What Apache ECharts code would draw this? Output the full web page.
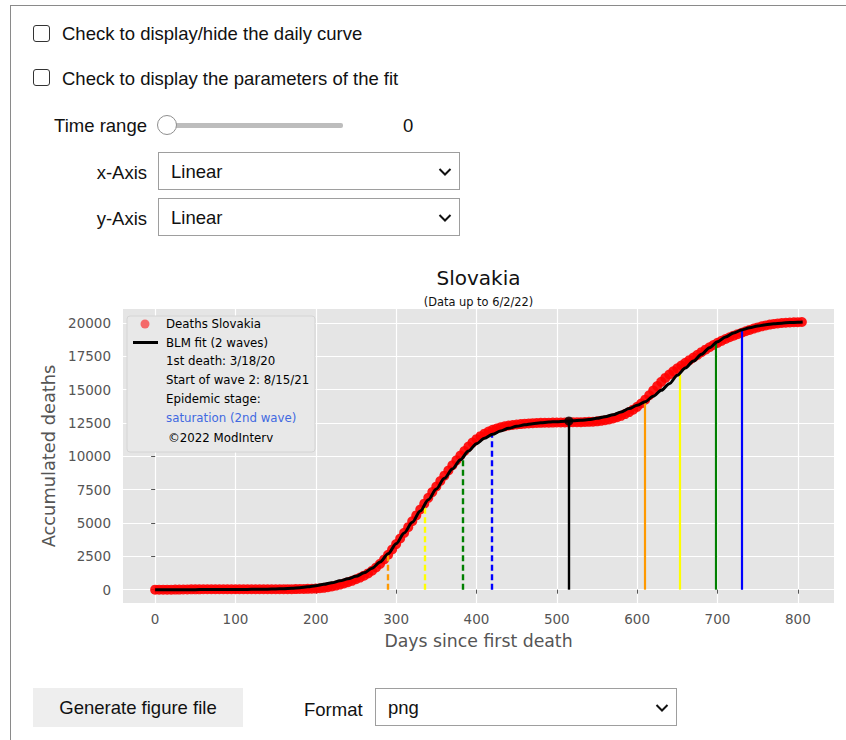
<!DOCTYPE html>
<html>
<head>
<meta charset="utf-8">
<title>Slovakia</title>
<script src="https://cdn.jsdelivr.net/npm/echarts@6/dist/echarts.min.js"></script>
<style>
  html, body { margin: 0; padding: 0; background: #fff; width: 846px; height: 740px; overflow: hidden;
    font-family: "Liberation Sans", Arial, Helvetica, sans-serif; color: #111; }
  .frame { position: absolute; left: 10px; top: 5px; width: 900px; height: 900px;
    border-left: 1px solid #8a8a8a; border-top: 1px solid #8a8a8a; }
  .txt { position: absolute; font-size: 18.5px; line-height: 20px; white-space: nowrap; }
  .right { text-align: right; }
  .chk { position: absolute; width: 17px; height: 17px; margin: 0; -webkit-appearance: none; appearance: none;
    border: 1.6px solid #333; border-radius: 3px; box-sizing: border-box; background: #fff; }
  .track { position: absolute; left: 170px; top: 123px; width: 173px; height: 5px; background: #bdbdbd; border-radius: 2px; }
  .handle { position: absolute; left: 157px; top: 115px; width: 20px; height: 20px; box-sizing: border-box;
    border: 1px solid #8f8f8f; border-radius: 50%; background: #fff; }
  .sel { position: absolute; width: 302px; height: 38px; box-sizing: border-box; border: 1px solid #9e9e9e; background: #fff; }
  .sel .val { position: absolute; left: 12px; top: 9px; font-size: 18.5px; line-height: 20px; }
  .sel svg { position: absolute; right: 7px; top: 14px; }
  .btn { position: absolute; left: 33px; top: 688px; width: 210px; height: 39px; background: #eeeeee;
    font-size: 18.5px; line-height: 39px; text-align: center; }
  #chart { position: absolute; left: 0; top: 250px; width: 846px; height: 430px; }
</style>
</head>
<body>
<div class="frame"></div>

<input type="checkbox" class="chk" style="left:33px;top:25px">
<div class="txt" style="left:62px;top:24px">Check to display/hide the daily curve</div>
<input type="checkbox" class="chk" style="left:33px;top:69px">
<div class="txt" style="left:62px;top:69px">Check to display the parameters of the fit</div>

<div class="txt right" style="left:0;width:147px;top:116px">Time range</div>
<div class="track"></div>
<div class="handle"></div>
<div class="txt" style="left:403px;top:116px">0</div>

<div class="txt right" style="left:0;width:147px;top:163px">x-Axis</div>
<div class="sel" style="left:158px;top:152px"><span class="val">Linear</span>
  <svg width="14" height="10" viewBox="0 0 14 10"><polyline points="1.5,2 7,7.5 12.5,2" fill="none" stroke="#111" stroke-width="2"/></svg></div>
<div class="txt right" style="left:0;width:147px;top:209px">y-Axis</div>
<div class="sel" style="left:158px;top:198px"><span class="val">Linear</span>
  <svg width="14" height="10" viewBox="0 0 14 10"><polyline points="1.5,2 7,7.5 12.5,2" fill="none" stroke="#111" stroke-width="2"/></svg></div>

<div id="chart"></div>

<div class="btn">Generate figure file</div>
<div class="txt" style="left:304px;top:700px">Format</div>
<div class="sel" style="left:375px;top:688px"><span class="val">png</span>
  <svg width="14" height="10" viewBox="0 0 14 10"><polyline points="1.5,2 7,7.5 12.5,2" fill="none" stroke="#111" stroke-width="2"/></svg></div>

<script>
// Accumulated COVID-19 deaths in Slovakia, days counted from the first death (3/18/20)
const deathDays = [
  0, 5, 10, 15, 20, 25, 30, 35, 40, 45, 50, 55, 60, 65, 70, 75, 80, 85, 90, 95,
  100, 105, 110, 115, 120, 125, 130, 135, 140, 145, 150, 155, 160, 165, 170, 175, 180, 185, 190, 195,
  200, 205, 210, 215, 220, 225, 230, 235, 240, 245, 250, 255, 260, 265, 270, 275, 280, 285, 290, 295,
  300, 305, 310, 315, 320, 325, 330, 335, 340, 345, 350, 355, 360, 365, 370, 375, 380, 385, 390, 395,
  400, 405, 410, 415, 420, 425, 430, 435, 440, 445, 450, 455, 460, 465, 470, 475, 480, 485, 490, 495,
  500, 505, 510, 515, 520, 525, 530, 535, 540, 545, 550, 555, 560, 565, 570, 575, 580, 585, 590, 595,
  600, 605, 610, 615, 620, 625, 630, 635, 640, 645, 650, 655, 660, 665, 670, 675, 680, 685, 690, 695,
  700, 705, 710, 715, 720, 725, 730, 735, 740, 745, 750, 755, 760, 765, 770, 775, 780, 785, 790, 795,
  800, 805
];
const deathsCum = [
  1, 1, 1, 2, 2, 4, 9, 15, 20, 23, 25, 26, 28, 28, 28, 28, 28, 28, 28, 28,
  28, 28, 28, 28, 28, 28, 28, 28, 30, 30, 31, 33, 35, 37, 40, 43, 48, 55, 62, 70,
  80, 105, 140, 185, 240, 305, 380, 465, 560, 665, 780, 905, 1050, 1220, 1420, 1660, 1940, 2260, 2620, 3010,
  3420, 3840, 4260, 4690, 5130, 5570, 6010, 6450, 6890, 7320, 7740, 8150, 8550, 8940, 9330, 9700, 10060, 10400, 10730, 11030,
  11290, 11510, 11700, 11860, 11990, 12090, 12180, 12250, 12310, 12350, 12390, 12420, 12450, 12470, 12490, 12500, 12510, 12520, 12525, 12530,
  12535, 12540, 12545, 12550, 12555, 12560, 12565, 12575, 12585, 12600, 12625, 12660, 12705, 12765, 12840, 12930, 13040, 13170, 13320, 13500,
  13710, 13960, 14250, 14580, 14930, 15270, 15590, 15880, 16140, 16380, 16600, 16810, 17010, 17210, 17410, 17610, 17810, 18000, 18180, 18350,
  18510, 18660, 18800, 18930, 19050, 19160, 19270, 19380, 19480, 19580, 19670, 19750, 19820, 19880, 19930, 19970, 20000, 20020, 20040, 20055,
  20065, 20075
];

// BLM fit with two waves
const fitDays = [
  0, 10, 20, 30, 40, 50, 60, 70, 80, 90, 100, 110, 120, 130, 140, 150, 160, 170, 180, 190,
  200, 210, 220, 230, 240, 250, 260, 270, 280, 290, 300, 310, 320, 330, 340, 350, 360, 370, 380, 390,
  400, 410, 420, 430, 440, 450, 460, 470, 480, 490, 500, 510, 520, 530, 540, 550, 560, 570, 580, 590,
  600, 610, 620, 630, 640, 650, 660, 670, 680, 690, 700, 710, 720, 730, 740, 750, 760, 770, 780, 790,
  800, 806
];
const fitDeaths = [
  0, 0, 1, 1, 2, 3, 4, 5, 7, 9, 12, 16, 22, 30, 40, 55, 75, 100, 140, 210,
  300, 400, 520, 660, 820, 1000, 1260, 1600, 2080, 2700, 3450, 4250, 5050, 5900, 6750, 7550, 8350, 9050, 9750, 10400,
  10950, 11350, 11650, 11900, 12100, 12250, 12360, 12450, 12520, 12570, 12600, 12630, 12660, 12700, 12760, 12850, 12970, 13120, 13330, 13580,
  13830, 14100, 14500, 14950, 15450, 16080, 16620, 17150, 17650, 18150, 18600, 18950, 19250, 19480, 19640, 19770, 19870, 19940, 19990, 20030,
  20060, 20075
];

// Stage markers of each wave (day, level reached by the fit)
const wave1MarkDays = [289, 335, 383, 419];
const wave1MarkLevels = [2700, 6370, 9990, 11610];
const wave2MarkDays = [609, 653, 698, 730];
const wave2MarkLevels = [14030, 16280, 18530, 19480];
const wave2StartDay = 515;
const wave2StartLevel = 12650;

// Axis ticks
const xTickValues = [0, 100, 200, 300, 400, 500, 600, 700, 800];
const yTickValues = [0, 2500, 5000, 7500, 10000, 12500, 15000, 17500, 20000];

// Legend notes
const legendNotes = ['1st death: 3/18/20', 'Start of wave 2: 8/15/21', 'Epidemic stage:', 'saturation (2nd wave)'];
const copyrightNote = '\u00A92022 ModInterv';

const markColors = ['#ff9900', '#ffff00', '#008000', '#0000ff'];
const FONT = '"DejaVu Sans", Verdana, sans-serif';

const deathPoints = deathDays.map((d, i) => [d, deathsCum[i]]);
const fitPoints = fitDays.map((d, i) => [d, fitDeaths[i]]);

const markLines = [];
wave1MarkDays.forEach((d, i) => {
  markLines.push([
    { coord: [d, 0], lineStyle: { color: markColors[i], width: 2.4, type: [6, 3.5] } },
    { coord: [d, wave1MarkLevels[i]] }
  ]);
});
wave2MarkDays.forEach((d, i) => {
  markLines.push([
    { coord: [d, 0], lineStyle: { color: markColors[i], width: 2.2, type: 'solid' } },
    { coord: [d, wave2MarkLevels[i]] }
  ]);
});
markLines.push([
  { coord: [wave2StartDay, 0], lineStyle: { color: '#000', width: 2.4, type: 'solid' } },
  { coord: [wave2StartDay, wave2StartLevel] }
]);

const noteRowY = [111, 130, 149, 168];
const graphics = [
  { type: 'rect', z: 15, silent: true,
    shape: { x: 127, y: 66, width: 188, height: 136, r: 3 },
    style: { fill: '#e8e8e8', stroke: '#d4d4d4', lineWidth: 1 } }
];
legendNotes.forEach((t, i) => {
  graphics.push({ type: 'text', z: 25, silent: true, x: 166, y: noteRowY[i],
    style: { text: t, font: '11.8px ' + FONT, fill: i === 3 ? '#4169e1' : '#000', verticalAlign: 'middle' } });
});
graphics.push({ type: 'text', z: 25, silent: true, x: 168, y: 188,
  style: { text: copyrightNote, font: '11.8px ' + FONT, fill: '#000', verticalAlign: 'middle' } });

const chart = echarts.init(document.getElementById('chart'), null, { renderer: 'svg' });
chart.setOption({
  animation: false,
  backgroundColor: 'transparent',
  title: [
    { text: 'Slovakia', left: 478.5, top: 18, textAlign: 'center', padding: 0,
      textStyle: { fontFamily: FONT, fontSize: 20, fontWeight: 'normal', color: '#111' } },
    { text: '(Data up to 6/2/22)', left: 478.5, top: 46, textAlign: 'center', padding: 0,
      textStyle: { fontFamily: FONT, fontSize: 11.4, fontWeight: 'normal', color: '#111' } }
  ],
  grid: { left: 123, right: 12, top: 59, bottom: 77, show: true, backgroundColor: '#e5e5e5',
    borderWidth: 0, containLabel: false, outerBoundsMode: 'none' },
  legend: {
    orient: 'vertical', left: 133, top: 67, padding: 0, z: 20,
    itemWidth: 25, itemHeight: 10, itemGap: 4.5, selectedMode: false,
    textStyle: { fontFamily: FONT, fontSize: 11.8, color: '#000', lineHeight: 14, padding: [0, 0, 0, 3] },
    data: [
      { name: 'Deaths Slovakia',
        icon: 'path://M0,5 L0,5 M12,0.5 A4.5,4.5 0 1 1 12,9.5 A4.5,4.5 0 1 1 12,0.5 Z M25,5 L25,5 M12,0 L12,0 M12,10 L12,10',
        itemStyle: { color: 'rgba(255,0,0,0.6)' } },
      { name: 'BLM fit (2 waves)', icon: 'path://M0,3.5 H25 V6.5 H0 Z', itemStyle: { color: '#000' } }
    ]
  },
  graphic: graphics,
  xAxis: {
    type: 'value', min: -40, max: 845,
    name: 'Days since first death', nameLocation: 'middle', nameGap: 29,
    nameTextStyle: { fontFamily: FONT, fontSize: 17.3, color: '#555' },
    axisLine: { show: false },
    axisTick: { show: true, length: 4, customValues: xTickValues, lineStyle: { color: '#555', width: 1 } },
    axisLabel: { customValues: xTickValues, margin: 9, fontFamily: FONT, fontSize: 13.5, color: '#555' },
    splitLine: { show: true, lineStyle: { color: '#fff', width: 1.2 } },
    minorTick: { show: false }
  },
  yAxis: {
    type: 'value', min: -1000, max: 21050,
    name: 'Accumulated deaths', nameLocation: 'middle', nameGap: 54, nameRotate: 90,
    nameTextStyle: { fontFamily: FONT, fontSize: 17.8, color: '#555' },
    axisLine: { show: false },
    axisTick: { show: true, length: 4, customValues: yTickValues, lineStyle: { color: '#555', width: 1 } },
    axisLabel: { customValues: yTickValues, margin: 12, fontFamily: FONT, fontSize: 13.5, color: '#555',
      formatter: v => String(v) },
    splitLine: { show: true, lineStyle: { color: '#fff', width: 1.2 } }
  },
  series: [
    { name: 'Deaths Slovakia', type: 'scatter', data: deathPoints, symbol: 'circle', symbolSize: 10,
      itemStyle: { color: '#ff0000', opacity: 0.9, borderWidth: 0 }, z: 3, silent: true },
    { name: 'stage markers', type: 'line', data: [], z: 4, silent: true,
      markLine: { silent: true, symbol: ['none', 'none'], label: { show: false }, animation: false, data: markLines } },
    { name: 'BLM fit (2 waves)', type: 'line', data: fitPoints, showSymbol: false, symbol: 'none',
      smooth: 0.3, smoothMonotone: 'x', lineStyle: { color: '#000', width: 3 }, itemStyle: { color: '#000' }, z: 5, silent: true },
    { name: 'start of wave 2', type: 'scatter', data: [[wave2StartDay, wave2StartLevel]], symbolSize: 9,
      itemStyle: { color: '#000' }, z: 6, silent: true }
  ]
});
</script>
</body>
</html>
